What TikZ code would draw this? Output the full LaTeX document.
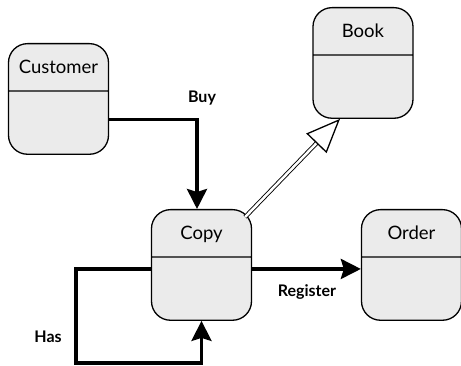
\documentclass[tikz,border=0pt]{standalone}
\usepackage{fontspec}
\setmainfont{Lato}
\usepackage{xcolor}
\usepackage{tikz}
\usetikzlibrary{shapes,arrows,positioning,calc,arrows.meta}

\definecolor{boxgray}{HTML}{EBEBEB}

\tikzset{
    cls/.style={rectangle split, rectangle split parts=2, draw, line width=1.3pt,
        rounded corners=19pt, fill=boxgray, inner sep=0pt, text width=100pt,
        align=center, font=\fontsize{18.5}{20}\selectfont},
    assoc/.style={line width=3.5pt, -{Stealth[length=20pt,width=20pt,inset=3pt]}},
    lbl/.style={font=\fontsize{16}{18}\selectfont\bfseries},
}

\newcommand{\clsname}[1]{\rule[-17pt]{0pt}{46pt}#1\nodepart{two}\rule{0pt}{62pt}}

\begin{document}
\begin{tikzpicture}[x=1pt, y=-1pt]
    \useasboundingbox (0,0) rectangle (461,366);

    % Classes
    \node [cls, anchor=north] (customer) at (58.5, 43) {\clsname{Customer}};
    \node [cls, anchor=north] (book) at (363, 7) {\clsname{Book}};
    \node [cls, anchor=north] (copy) at (201.5, 209) {\clsname{Copy}};
    \node [cls, anchor=north] (order) at (411.5, 209) {\clsname{Order}};

    % Buy
    \draw [assoc] ([yshift=-20.5pt]customer.east) -| ([xshift=-4.5pt]copy.north);
    \node [lbl] (buy) at (202, 98) {Buy};

    % Register
    \draw [assoc] ([yshift=-4pt]copy.east) -- ([yshift=-4pt]order.west);
    \node [lbl] (register) at (307, 292) {Register};

    % Has
    \coordinate (hasloop) at (76, 363);
    \draw [assoc] ([yshift=-4pt]copy.west) -| (hasloop) -| (copy.south);
    \node [lbl] (has) at (48, 337) {Has};

    % Generalisation
    \draw [line width=0.9pt, double, double distance=2.5pt,
        -{Triangle[open, fill=white, length=34pt, width=28pt, line width=1.3pt]}]
        ([xshift=-7pt, yshift=-8pt]copy.north east) -- ([xshift=-23pt]book.south);
\end{tikzpicture}
\end{document}
